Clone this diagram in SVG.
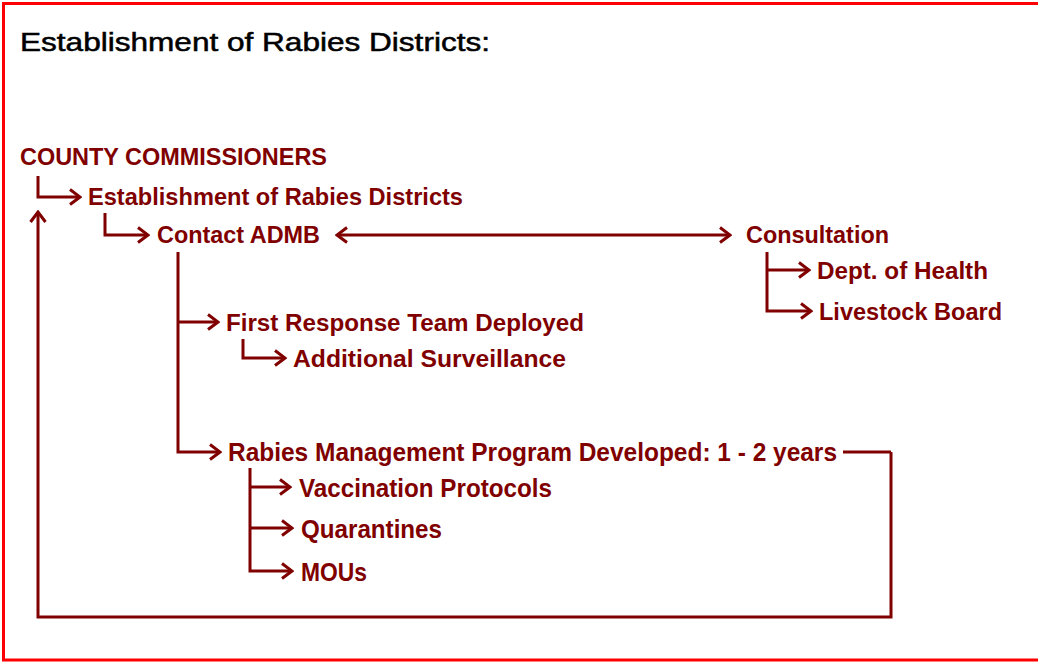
<svg xmlns="http://www.w3.org/2000/svg" width="1038" height="662" viewBox="0 0 1038 662">
<style>
.t{font-family:"Liberation Sans",Arial,sans-serif;font-weight:bold;font-size:23px;fill:#800000}
.n{font-size:25px}
.h{font-family:"Liberation Sans",Arial,sans-serif;font-size:25px;fill:#000;stroke:#000;stroke-width:0.5}
.c{fill:none;stroke:#800000;stroke-width:3}
</style>
<defs>
<marker id="ah" markerUnits="userSpaceOnUse" markerWidth="16" markerHeight="20" viewBox="0 0 16 20" refX="14" refY="10" orient="auto-start-reverse">
<path d="M4,2.5 L14,10 L4,17.5" fill="none" stroke="#800000" stroke-width="3"/>
</marker>
</defs>
<rect x="0" y="0" width="1038" height="662" fill="#fff"/>
<rect x="3.5" y="3.5" width="1040" height="656.5" fill="none" stroke="#ff0000" stroke-width="3"/>
<text class="h" x="20" y="51" textLength="470" lengthAdjust="spacingAndGlyphs">Establishment of Rabies Districts:</text>
<g id="connectors">
<path class="c" d="M38,176 V197 H80" marker-end="url(#ah)"/>
<path class="c" d="M891,452 V617 H38 V212" marker-end="url(#ah)"/>
<path class="c" d="M843,452 H891"/>
<path class="c" d="M105,213 V235 H148" marker-end="url(#ah)"/>
<path class="c" d="M337,235 H730" marker-start="url(#ah)" marker-end="url(#ah)"/>
<path class="c" d="M178,252 V452 H220" marker-end="url(#ah)"/>
<path class="c" d="M178,322 H218" marker-end="url(#ah)"/>
<path class="c" d="M243,339 V358 H285" marker-end="url(#ah)"/>
<path class="c" d="M250,468 V571 H292" marker-end="url(#ah)"/>
<path class="c" d="M250,487 H290" marker-end="url(#ah)"/>
<path class="c" d="M250,528 H292" marker-end="url(#ah)"/>
<path class="c" d="M767,252 V311 H811" marker-end="url(#ah)"/>
<path class="c" d="M767,270 H809" marker-end="url(#ah)"/>
</g>
<g id="county"><text class="t" x="20" y="165" textLength="307" lengthAdjust="spacingAndGlyphs">COUNTY COMMISSIONERS</text></g>
<g id="establish"><text class="t" x="88" y="205" textLength="375" lengthAdjust="spacingAndGlyphs">Establishment of Rabies Districts</text></g>
<g id="contact"><text class="t" x="157" y="243" textLength="163" lengthAdjust="spacingAndGlyphs">Contact ADMB</text></g>
<g id="consultation"><text class="t" x="746" y="243" textLength="143" lengthAdjust="spacingAndGlyphs">Consultation</text></g>
<g id="health"><text class="t" x="817" y="279" textLength="171" lengthAdjust="spacingAndGlyphs">Dept. of Health</text></g>
<g id="livestock"><text class="t" x="819" y="320" textLength="183" lengthAdjust="spacingAndGlyphs">Livestock Board</text></g>
<g id="firstresponse"><text class="t" x="226" y="331" textLength="358" lengthAdjust="spacingAndGlyphs">First Response Team Deployed</text></g>
<g id="surveillance"><text class="t" x="293" y="367" textLength="273" lengthAdjust="spacingAndGlyphs">Additional Surveillance</text></g>
<g id="program"><text class="t n" x="228" y="461" textLength="609" lengthAdjust="spacingAndGlyphs">Rabies Management Program Developed: 1 - 2 years</text></g>
<g id="vaccination"><text class="t n" x="299" y="497" textLength="253" lengthAdjust="spacingAndGlyphs">Vaccination Protocols</text></g>
<g id="quarantines"><text class="t n" x="301" y="538" textLength="141" lengthAdjust="spacingAndGlyphs">Quarantines</text></g>
<g id="mous"><text class="t n" x="301" y="581" textLength="66" lengthAdjust="spacingAndGlyphs">MOUs</text></g>
</svg>
